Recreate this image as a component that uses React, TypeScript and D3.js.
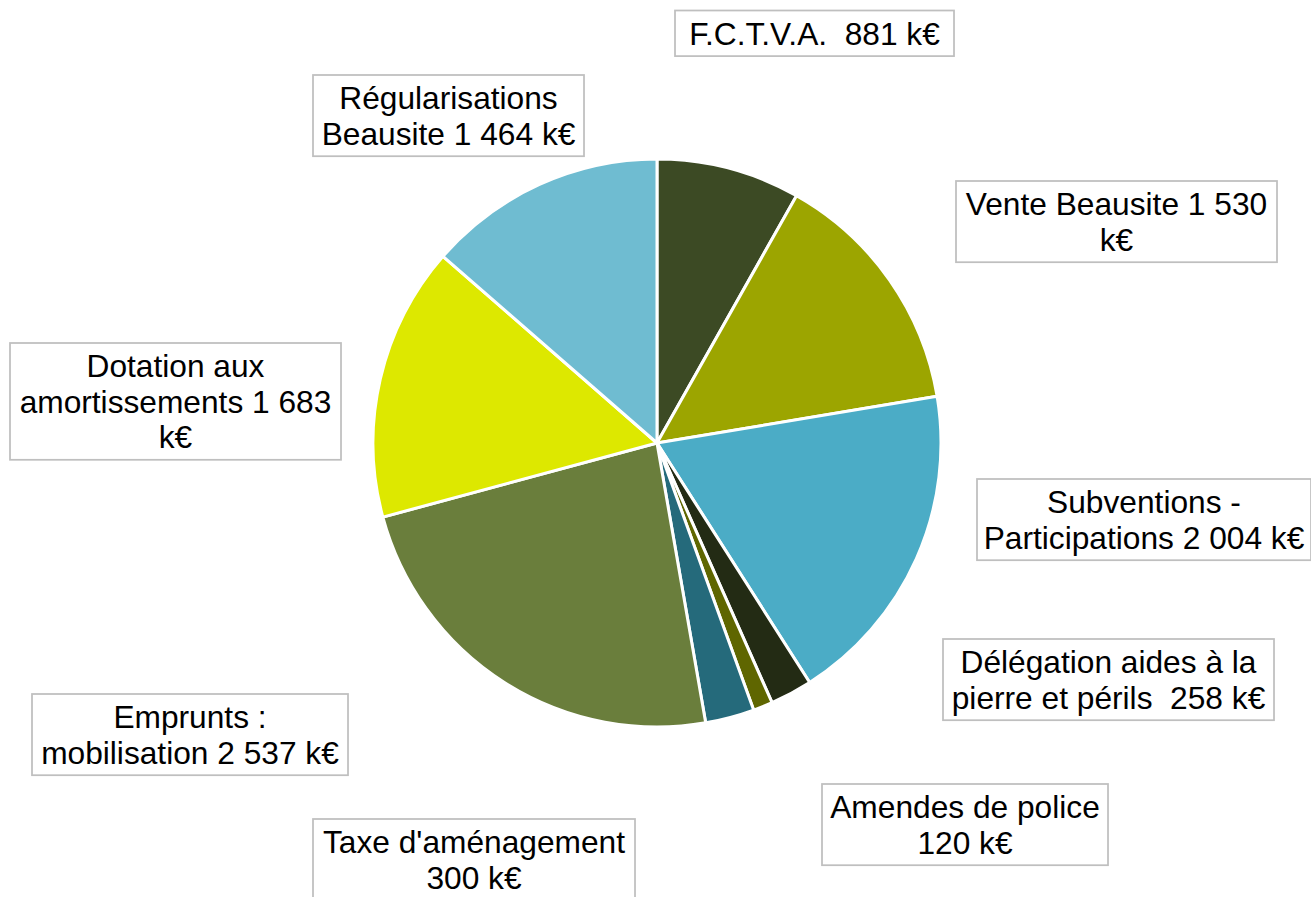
import React, { useRef, useEffect } from "react";
import * as d3 from "d3";

// Recettes d'investissement (k€), dans l'ordre du graphique
const categories = [
  "F.C.T.V.A.",
  "Vente Beausite",
  "Subventions - Participations",
  "Délégation aides à la pierre et périls",
  "Amendes de police",
  "Taxe d'aménagement",
  "Emprunts : mobilisation",
  "Dotation aux amortissements",
  "Régularisations Beausite",
];
const values = [881, 1530, 2004, 258, 120, 300, 2537, 1683, 1464];
const labelLines = [
  ["F.C.T.V.A.  881 k€"],
  ["Vente Beausite 1 530", "k€"],
  ["Subventions -", "Participations 2 004 k€"],
  ["Délégation aides à la", "pierre et périls  258 k€"],
  ["Amendes de police", "120 k€"],
  ["Taxe d'aménagement", "300 k€"],
  ["Emprunts :", "mobilisation 2 537 k€"],
  ["Dotation aux", "amortissements 1 683", "k€"],
  ["Régularisations", "Beausite 1 464 k€"],
];
const colors = [
  "#3C4A24", "#9CA500", "#4BACC6", "#232B14", "#5F6600",
  "#256A7B", "#6A7E3C", "#DDE800", "#6FBCD1",
];

// label box placement [x, y, width]
const boxes = [
  [675, 10.5, 279],
  [956, 181, 321],
  [977, 479, 334],
  [943, 639, 331],
  [822, 784, 286],
  [313, 819, 322],
  [32, 694, 316],
  [10, 343, 331],
  [313, 75, 271],
];

const W = 1311;
const H = 897;

const App = () => {
  const ref = useRef(null);

  useEffect(() => {
    const svg = d3.select(ref.current);
    svg.selectAll("*").remove();

    const cx = 657;
    const cy = 443;
    const r = 284;
    const fontSize = 31.7;
    const lineH = 35.6;

    const pie = d3.pie().sort(null).value((d) => d)(values);
    const arc = d3.arc().innerRadius(0).outerRadius(r);

    svg.append("g")
      .attr("transform", `translate(${cx},${cy})`)
      .selectAll("path")
      .data(pie)
      .join("path")
      .attr("d", arc)
      .attr("fill", (d, i) => colors[i])
      .attr("stroke", "#ffffff")
      .attr("stroke-width", 3)
      .attr("stroke-linejoin", "round");

    const lab = svg.append("g").selectAll("g")
      .data(categories)
      .join("g");

    lab.append("rect")
      .attr("x", (d, i) => boxes[i][0])
      .attr("y", (d, i) => boxes[i][1])
      .attr("width", (d, i) => boxes[i][2])
      .attr("height", (d, i) => 10 + lineH * labelLines[i].length)
      .attr("fill", "#ffffff")
      .attr("stroke", "#BFBFBF")
      .attr("stroke-width", 1.75);

    lab.each(function (d, i) {
      const g = d3.select(this);
      const [bx, by, bw] = boxes[i];
      g.selectAll("text")
        .data(labelLines[i])
        .join("text")
        .attr("x", bx + bw / 2)
        .attr("y", (t, j) => by + 34 + j * lineH)
        .attr("text-anchor", "middle")
        .attr("font-family", "'Liberation Sans', Arial, sans-serif")
        .attr("font-size", fontSize)
        .attr("fill", "#000000")
        .style("white-space", "pre")
        .text((t) => t);
    });
  }, []);

  return (
    <svg
      ref={ref}
      width={W}
      height={H}
      style={{ position: "absolute", left: 0, top: 0, background: "#ffffff" }}
    />
  );
};

export default App;
